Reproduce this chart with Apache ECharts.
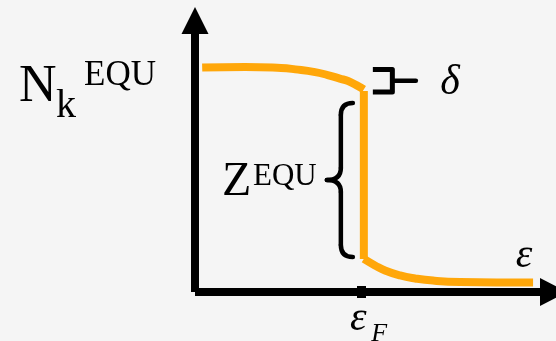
<!DOCTYPE html>
<html>
<head>
<meta charset="utf-8">
<script src="https://cdn.jsdelivr.net/npm/echarts@6/dist/echarts.min.js"></script>
<style>
  html, body { margin: 0; padding: 0; background: #f5f5f5; }
  #chart { width: 556px; height: 341px; }
</style>
</head>
<body>
<div id="chart"></div>
<script>
// Equilibrium occupation N_k^EQU against single-particle energy ε (arbitrary units).
const upperBranch = [
  [2, 82.7], [14, 82.9], [24, 82.5], [28, 82.0], [33.5, 81.0],
  [37, 79.9], [40.4, 78.6], [42.7, 77.7], [45, 76.2], [47.1, 74.6]
];
const jumpAtFermi = [[47.1, 74.0], [47.1, 12.2]];
const lowerBranch = [
  [47.1, 12.2], [50.2, 9.8], [53, 7.9], [57.2, 6.1], [61.4, 5.0],
  [66.4, 4.2], [73.9, 3.7], [94.3, 3.5]
];
const fermiLevel = [46.4];
const fermiLabel = ['ε', 'F'];      // ε with subscript F
const yLabel = ['N', 'k', 'EQU'];   // N, subscript k, superscript EQU
const jumpLabel = ['Z', 'EQU'];
const deltaLabel = 'δ';
const xName = 'ε';

const ORANGE = '#FFA70A';
const SERIF = 'Liberation Serif';

const chart = echarts.init(document.getElementById('chart'), null, { renderer: 'canvas' });

function branch(data, smooth) {
  return {
    type: 'line',
    data: data,
    showSymbol: false,
    symbol: 'none',
    smooth: smooth,
    silent: true,
    lineStyle: { color: ORANGE, width: 8, cap: 'butt', join: 'miter' },
    z: 3
  };
}

// The Fermi-level tick pokes out on both sides of the axis line:
// one axis carries the outward half, a twin axis the inward half.
const tickStyle = { color: '#000', width: 9 };

chart.setOption({
  backgroundColor: '#f5f5f5',
  animation: false,
  grid: { left: 195, right: 2.5, top: 20.5, bottom: 49, containLabel: false, outerBoundsMode: 'none' },
  xAxis: [{
    type: 'value', min: 0, max: 100,
    axisLine: {
      show: true, onZero: false,
      symbol: ['none', 'triangle'], symbolSize: [28, 27],
      lineStyle: { color: '#000', width: 8, cap: 'butt' }
    },
    axisTick: { show: true, customValues: fermiLevel, length: 6, lineStyle: tickStyle },
    axisLabel: { show: false },
    splitLine: { show: false }
  }, {
    type: 'value', min: 0, max: 100, position: 'bottom',
    axisLine: { show: false, onZero: false },
    axisTick: { show: true, inside: true, customValues: fermiLevel, length: 6, lineStyle: tickStyle },
    axisLabel: { show: false },
    splitLine: { show: false }
  }],
  yAxis: {
    type: 'value', min: 0, max: 100,
    axisLine: {
      show: true, onZero: false,
      symbol: ['none', 'triangle'], symbolSize: [27, 27],
      lineStyle: { color: '#000', width: 8, cap: 'butt' }
    },
    axisTick: { show: false },
    axisLabel: { show: false },
    splitLine: { show: false }
  },
  series: [
    branch(upperBranch, 0.5),
    branch(jumpAtFermi, false),
    branch(lowerBranch, 0.5)
  ]
});

const px = p => chart.convertToPixel({ gridIndex: 0 }, p);

function text(str, x, y, size, italic, align) {
  return {
    type: 'text', x: x, y: y, silent: true, z: 10,
    style: {
      text: str,
      fontFamily: SERIF,
      fontSize: size,
      fontStyle: italic ? 'italic' : 'normal',
      fill: '#000',
      align: align || 'left', textAlign: align || 'left',
      verticalAlign: 'middle', textVerticalAlign: 'middle'
    }
  };
}

const stroke = { stroke: '#000', lineWidth: 4.5, lineCap: 'round', lineJoin: 'round', fill: null };
function seg(x1, y1, x2, y2) {
  return { type: 'line', silent: true, z: 10, shape: { x1, y1, x2, y2 }, style: stroke };
}
function quad(x1, y1, cx, cy, x2, y2) {
  return { type: 'bezierCurve', silent: true, z: 10,
    shape: { x1, y1, x2, y2, cpx1: cx, cpy1: cy }, style: stroke };
}

// Curly brace spanning the jump Z at the Fermi level
const jTop = px(jumpAtFermi[0]);
const jBot = px(jumpAtFermi[1]);
const xs = jTop[0] - 23, xt = xs - 14, xe = xs + 12;
const yt = jTop[1] + 12, yb = jBot[1] - 2, ym = (yt + yb) / 2, r = 12;
const brace = [
  quad(xe, yt, xs, yt, xs, yt + r),
  seg(xs, yt + r, xs, ym - r),
  quad(xs, ym - r, xs, ym, xt, ym),
  quad(xt, ym, xs, ym, xs, ym + r),
  seg(xs, ym + r, xs, yb - r),
  quad(xs, yb - r, xs, yb, xe, yb)
];

// Square bracket marking δ, from the plateau level to the top of the jump
const plateau = px(upperBranch[0]);
const bx0 = jTop[0] + 9, bx1 = jTop[0] + 28.5, by0 = plateau[1] + 2, by1 = jTop[1] + 1;
const bracket = [
  { type: 'polyline', silent: true, z: 10,
    shape: { points: [[bx0, by0], [bx1, by0], [bx1, by1], [bx0, by1]] },
    style: Object.assign({}, stroke, { lineWidth: 5, lineCap: 'butt' }) },
  seg(bx1, (by0 + by1) / 2, bx1 + 23.5, (by0 + by1) / 2)
];

const tick = px([fermiLevel[0], 0]);
const texts = [
  text(yLabel[0], 19, 87.5, 52, false),
  text(yLabel[1], 56, 106, 40, false),
  text(yLabel[2], 84, 75.5, 35, false),
  text(jumpLabel[0], 222, 182.5, 48, false),
  text(jumpLabel[1], 253, 177, 31, false),
  text(deltaLabel, 450, 83, 42, true, 'center'),
  text(xName, 524, 256, 42, true, 'center'),
  text(fermiLabel[0], tick[0] - 3, 319, 42, true, 'center'),
  text(fermiLabel[1], tick[0] + 10, 334, 26, true)
];

chart.setOption({ graphic: { elements: brace.concat(bracket, texts) } });
</script>
</body>
</html>
